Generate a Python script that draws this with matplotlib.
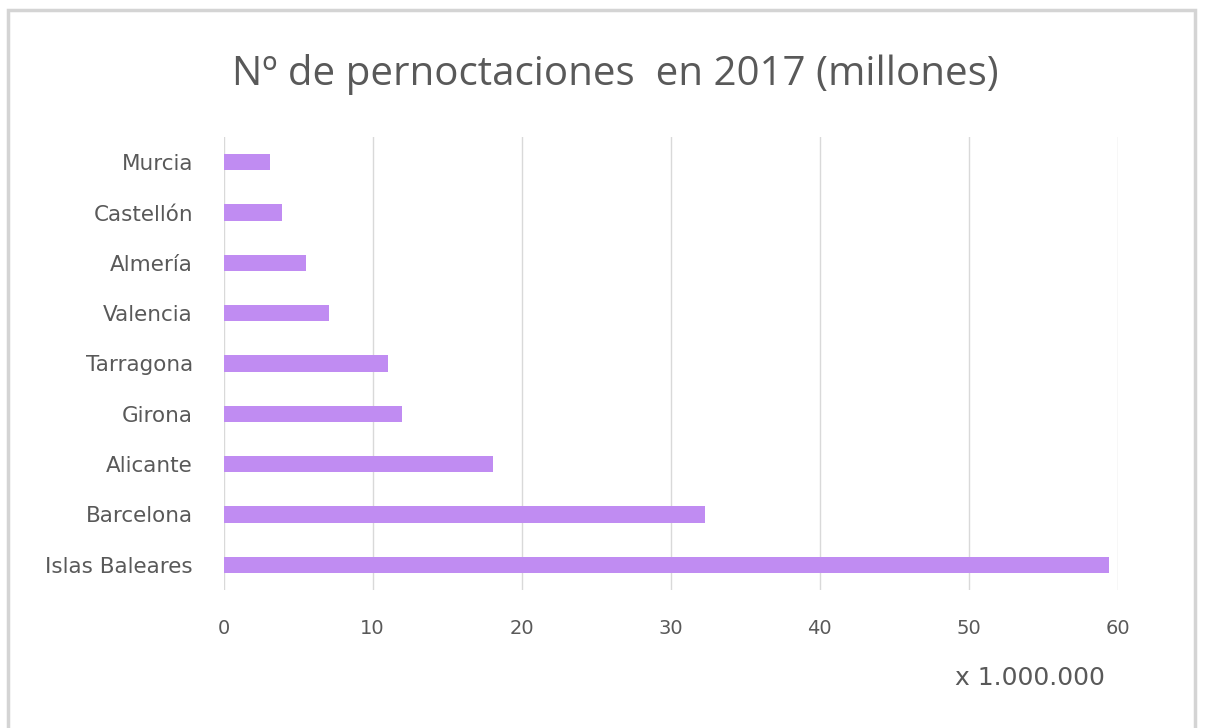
import matplotlib.pyplot as plt
from matplotlib.patches import Rectangle

provincias = ["Islas Baleares", "Barcelona", "Alicante", "Girona", "Tarragona",
              "Valencia", "Almería", "Castellón", "Murcia"]
pernoctaciones = [59.4, 32.3, 18.1, 12.0, 11.0, 7.1, 5.5, 3.9, 3.1]
ticks_x = [0, 10, 20, 30, 40, 50, 60]

fig = plt.figure(figsize=(12.05, 7.28), dpi=100)
fig.patches.append(Rectangle((0.007, -0.01), 0.985, 0.996, transform=fig.transFigure,
                             fill=False, edgecolor="#d4d4d4", linewidth=2.5))

ax = fig.add_axes([0.1855, 0.1896, 0.7423, 0.6222])
ax.barh(range(len(provincias)), pernoctaciones, height=0.32, color="#c08cf2")
ax.set_ylim(-0.5, len(provincias) - 0.5)
ax.set_xlim(0, 60)
ax.set_xticks(ticks_x)
ax.set_yticks(range(len(provincias)))
ax.set_yticklabels(provincias)
ax.grid(axis="x", color="#d9d9d9", linewidth=1)
ax.set_axisbelow(True)
for s in ax.spines.values():
    s.set_visible(False)
ax.tick_params(axis="both", length=0, colors="#595959")
ax.tick_params(axis="x", pad=21, labelsize=14)
ax.tick_params(axis="y", pad=22, labelsize=15.5)

fig.text(0.511, 0.897, "Nº de pernoctaciones  en 2017 (millones)", ha="center", va="center",
         fontsize=29, color="#595959", family="Open Sans")
fig.text(0.855, 0.069, "x 1.000.000", ha="center", va="center", fontsize=18, color="#595959")

fig.savefig("out.png", dpi=100)
